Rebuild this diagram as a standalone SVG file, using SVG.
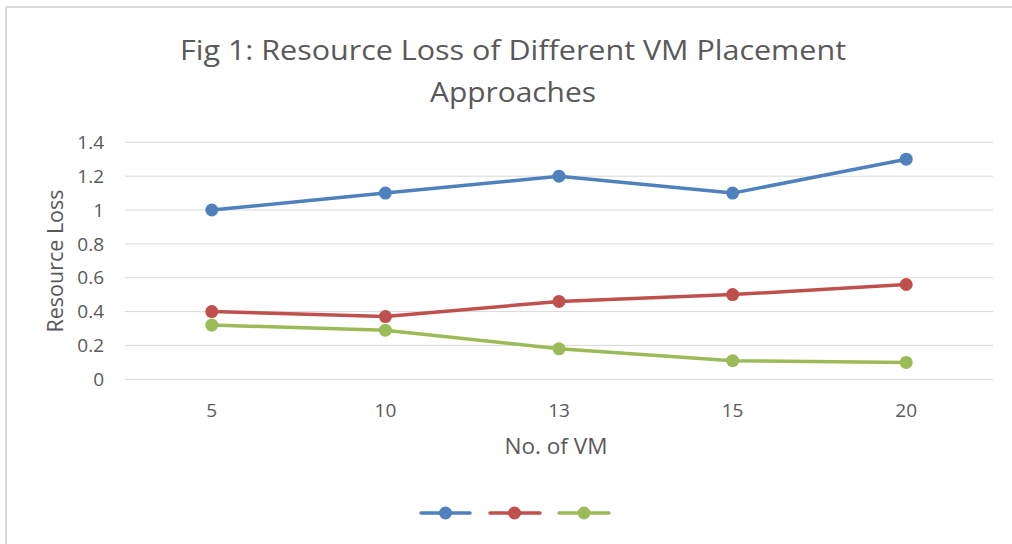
<svg xmlns="http://www.w3.org/2000/svg" width="1012" height="544" viewBox="0 0 1012 544">
<style>
.t{font-family:"Open Sans","Liberation Sans",sans-serif;fill:#595959}
.grid{stroke:#d9d9d9;stroke-width:1}
.tick{font-size:19px;text-anchor:end}
.xl{font-size:19px;text-anchor:middle}
.s1{stroke:#4f81bd;fill:none;stroke-width:3.5;stroke-linejoin:round;stroke-linecap:round}
.s2{stroke:#c0504d;fill:none;stroke-width:3.5;stroke-linejoin:round;stroke-linecap:round}
.s3{stroke:#9bbb59;fill:none;stroke-width:3.5;stroke-linejoin:round;stroke-linecap:round}
.m1{fill:#4f81bd}.m2{fill:#c0504d}.m3{fill:#9bbb59}
</style>
<rect x="0" y="0" width="1012" height="544" fill="#ffffff"/>
<g id="frame">
<line x1="6" y1="7" x2="1012" y2="7" stroke="#d9d9d9" stroke-width="2"/>
<line x1="6" y1="7" x2="6" y2="544" stroke="#d9d9d9" stroke-width="2"/>
</g>
<g id="title">
<text class="t" x="513" y="60" font-size="28" text-anchor="middle" textLength="666" lengthAdjust="spacingAndGlyphs">Fig 1: Resource Loss of Different VM Placement</text>
<text class="t" x="513" y="102" font-size="28" text-anchor="middle" textLength="166" lengthAdjust="spacingAndGlyphs">Approaches</text>
</g>
<g id="grid">
<line class="grid" x1="125" y1="142.3" x2="993" y2="142.3"/>
<line class="grid" x1="125" y1="176.2" x2="993" y2="176.2"/>
<line class="grid" x1="125" y1="210" x2="993" y2="210"/>
<line class="grid" x1="125" y1="243.9" x2="993" y2="243.9"/>
<line class="grid" x1="125" y1="277.7" x2="993" y2="277.7"/>
<line class="grid" x1="125" y1="311.6" x2="993" y2="311.6"/>
<line class="grid" x1="125" y1="345.4" x2="993" y2="345.4"/>
<line class="grid" x1="125" y1="379.3" x2="993" y2="379.3"/>
</g>
<g id="y-axis">
<text class="t tick" x="104" y="149">1.4</text>
<text class="t tick" x="104" y="182.9">1.2</text>
<text class="t tick" x="104" y="216.7">1</text>
<text class="t tick" x="104" y="250.6">0.8</text>
<text class="t tick" x="104" y="284.4">0.6</text>
<text class="t tick" x="104" y="318.3">0.4</text>
<text class="t tick" x="104" y="352.1">0.2</text>
<text class="t tick" x="104" y="386">0</text>
<text class="t" transform="translate(63,261) rotate(-90)" font-size="22" text-anchor="middle" textLength="143" lengthAdjust="spacingAndGlyphs">Resource Loss</text>
</g>
<g id="x-axis">
<text class="t xl" x="211.8" y="417">5</text>
<text class="t xl" x="385.4" y="417">10</text>
<text class="t xl" x="559" y="417">13</text>
<text class="t xl" x="732.6" y="417">15</text>
<text class="t xl" x="906.2" y="417">20</text>
<text class="t" x="556" y="454" font-size="22" text-anchor="middle" textLength="103" lengthAdjust="spacingAndGlyphs">No. of VM</text>
</g>
<g id="connectors">
<polyline class="s1" points="211.8,210 385.4,193.1 559,176.2 732.6,193.1 906.2,159.2"/>
<polyline class="s2" points="211.8,311.6 385.4,316.6 559,301.4 732.6,294.6 906.2,284.5"/>
<polyline class="s3" points="211.8,325.1 385.4,330.2 559,348.8 732.6,360.7 906.2,362.4"/>
</g>
<g id="series-1">
<circle class="m1" cx="211.8" cy="210" r="6.5"/>
<circle class="m1" cx="385.4" cy="193.1" r="6.5"/>
<circle class="m1" cx="559" cy="176.2" r="6.5"/>
<circle class="m1" cx="732.6" cy="193.1" r="6.5"/>
<circle class="m1" cx="906.2" cy="159.2" r="6.5"/>
</g>
<g id="series-2">
<circle class="m2" cx="211.8" cy="311.6" r="6.5"/>
<circle class="m2" cx="385.4" cy="316.6" r="6.5"/>
<circle class="m2" cx="559" cy="301.4" r="6.5"/>
<circle class="m2" cx="732.6" cy="294.6" r="6.5"/>
<circle class="m2" cx="906.2" cy="284.5" r="6.5"/>
</g>
<g id="series-3">
<circle class="m3" cx="211.8" cy="325.1" r="6.5"/>
<circle class="m3" cx="385.4" cy="330.2" r="6.5"/>
<circle class="m3" cx="559" cy="348.8" r="6.5"/>
<circle class="m3" cx="732.6" cy="360.7" r="6.5"/>
<circle class="m3" cx="906.2" cy="362.4" r="6.5"/>
</g>
<g id="legend">
<line class="s1" x1="421" y1="513" x2="470" y2="513"/>
<circle class="m1" cx="445.5" cy="513" r="6.5"/>
<line class="s2" x1="490" y1="513" x2="540" y2="513"/>
<circle class="m2" cx="514.5" cy="513" r="6.5"/>
<line class="s3" x1="559" y1="513" x2="609" y2="513"/>
<circle class="m3" cx="584" cy="513" r="6.5"/>
</g>
</svg>
